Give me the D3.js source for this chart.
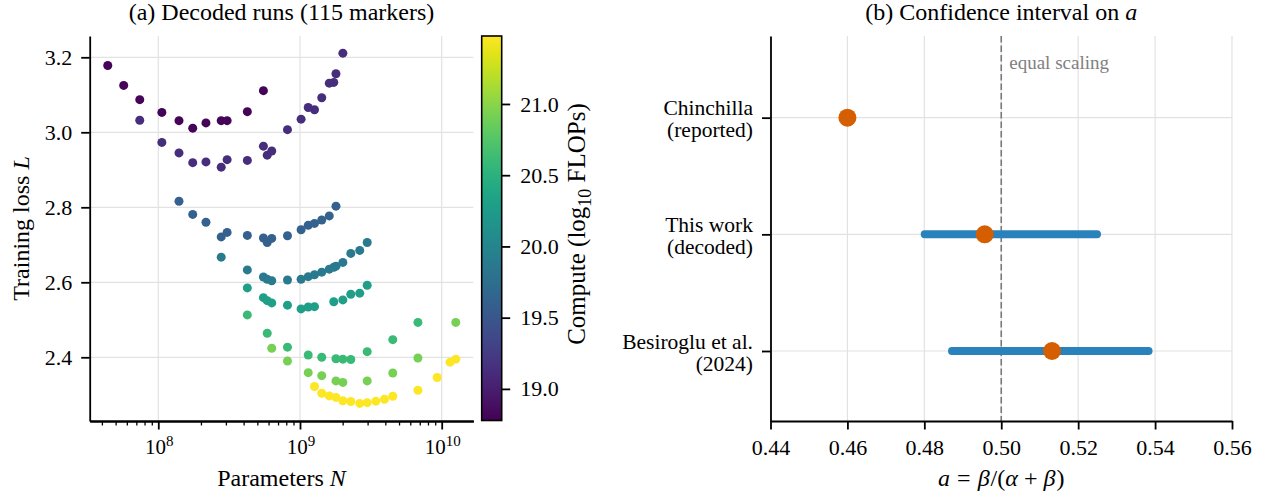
<!DOCTYPE html>
<html>
<head>
<meta charset="utf-8">
<script src="https://cdn.jsdelivr.net/npm/d3@7"></script>
<style>
body { margin: 0; background: #fff; }
svg { display: block; font-family: "Liberation Serif", "Times New Roman", serif; }
.axis path, .axis line { stroke: #000; }
</style>
</head>
<body>
<script>
'use strict';
// isoFLOP groups (log10 compute), params in millions, training loss
var computeLevels = [18.80, 19.13, 19.61, 19.88, 20.29, 20.61, 20.91, 21.48];

var paramsG1 = [44, 57, 74, 106, 140, 175, 217, 278, 306, 425, 552];
var lossG1 = [3.178, 3.125, 3.087, 3.053, 3.031, 3.011, 3.025, 3.031, 3.031, 3.055, 3.111];

var paramsG2 = [74, 106, 140, 175, 217, 278, 306, 425, 552, 587, 632, 816, 1018, 1143, 1266, 1424, 1609, 1731, 1794, 2007];
var lossG2 = [3.032, 2.973, 2.945, 2.919, 2.921, 2.907, 2.927, 2.925, 2.963, 2.939, 2.950, 3.007, 3.035, 3.066, 3.060, 3.092, 3.131, 3.133, 3.156, 3.211];

var paramsG3 = [140, 175, 217, 278, 306, 425, 552, 587, 632, 816, 1018, 1143, 1266, 1424, 1609, 1794];
var lossG3 = [2.816, 2.781, 2.760, 2.721, 2.733, 2.725, 2.718, 2.706, 2.717, 2.724, 2.740, 2.752, 2.757, 2.766, 2.777, 2.803];

var paramsG4 = [278, 425, 552, 587, 632, 816, 1018, 1143, 1266, 1424, 1609, 1731, 1794, 2007, 2283, 2639, 2980];
var lossG4 = [2.667, 2.633, 2.614, 2.608, 2.604, 2.606, 2.608, 2.615, 2.620, 2.627, 2.635, 2.640, 2.643, 2.653, 2.677, 2.685, 2.706];

var paramsG5 = [425, 552, 587, 632, 816, 1018, 1143, 1266, 1731, 2007, 2283, 2639, 2980];
var lossG5 = [2.585, 2.559, 2.551, 2.545, 2.539, 2.529, 2.534, 2.535, 2.548, 2.553, 2.568, 2.571, 2.592];

var paramsG6 = [425, 587, 816, 1143, 1424, 1794, 2007, 2283, 2980, 4516, 6796];
var lossG6 = [2.513, 2.464, 2.427, 2.406, 2.400, 2.396, 2.395, 2.394, 2.415, 2.447, 2.493];

var paramsG7 = [632, 816, 1143, 1424, 1794, 2007, 2980, 4516, 6796, 12569];
var lossG7 = [2.424, 2.390, 2.359, 2.351, 2.337, 2.333, 2.337, 2.358, 2.398, 2.493];

var paramsG8 = [1266, 1424, 1609, 1794, 2007, 2283, 2639, 2980, 3430, 3945, 4516, 6796, 9293, 11452, 12569];
var lossG8 = [2.322, 2.304, 2.297, 2.293, 2.284, 2.282, 2.277, 2.279, 2.283, 2.288, 2.296, 2.312, 2.346, 2.387, 2.395];

var lossTicks = [2.4, 2.6, 2.8, 3.0, 3.2];
var paramTicks = [1e8, 1e9, 1e10];
var computeTicks = [19.0, 19.5, 20.0, 20.5, 21.0];

// panel (b): a = beta/(alpha+beta)
var ciLabels = [["Chinchilla", "(reported)"], ["This work", "(decoded)"], ["Besiroglu et al.", "(2024)"]];
var ciPoint = [0.460, 0.4957, 0.5132];
var ciLow = [null, 0.4801, 0.4872];
var ciHigh = [null, 0.5249, 0.5383];
var aTicks = [0.44, 0.46, 0.48, 0.50, 0.52, 0.54, 0.56];
var equalScaling = 0.50;

var groups = [
    {c: computeLevels[0], n: paramsG1, l: lossG1},
    {c: computeLevels[1], n: paramsG2, l: lossG2},
    {c: computeLevels[2], n: paramsG3, l: lossG3},
    {c: computeLevels[3], n: paramsG4, l: lossG4},
    {c: computeLevels[4], n: paramsG5, l: lossG5},
    {c: computeLevels[5], n: paramsG6, l: lossG6},
    {c: computeLevels[6], n: paramsG7, l: lossG7},
    {c: computeLevels[7], n: paramsG8, l: lossG8}
];
var runs = [];
groups.forEach(function(g) {
    g.n.forEach(function(n, i) { runs.push({N: n * 1e6, L: g.l[i], C: g.c}); });
});

var svg = d3.select("body").append("svg")
    .attr("width", 1269)
    .attr("height", 494);

var tickFont = "22px", labelFont = "24px";
var gridColor = "#e2e2e2";

// ---------- panel (a) ----------
var left = {x0: 89.7, x1: 473.3, y0: 36, y1: 421};

var xScale = d3.scaleLog()
    .domain([Math.pow(10, 7.516), Math.pow(10, 10.223)])
    .range([left.x0, left.x1]);
var yScale = d3.scaleLinear()
    .domain([2.2301, 3.2568])
    .range([left.y1, left.y0]);
var cDomain = [Math.log10(6e18), Math.log10(3e21)];
var color = d3.scaleSequential(d3.interpolateViridis).domain(cDomain);

var gA = svg.append("g");

// grid
gA.selectAll(".gx").data(paramTicks).enter().append("line")
    .attr("x1", function(d) { return xScale(d); })
    .attr("x2", function(d) { return xScale(d); })
    .attr("y1", left.y0).attr("y2", left.y1)
    .attr("stroke", gridColor).attr("stroke-width", 1.2);
gA.selectAll(".gy").data(lossTicks).enter().append("line")
    .attr("x1", left.x0).attr("x2", left.x1)
    .attr("y1", function(d) { return yScale(d); })
    .attr("y2", function(d) { return yScale(d); })
    .attr("stroke", gridColor).attr("stroke-width", 1.2);

// markers
gA.selectAll(".run").data(runs).enter().append("circle")
    .attr("cx", function(d) { return xScale(d.N); })
    .attr("cy", function(d) { return yScale(d.L); })
    .attr("r", 4.5)
    .attr("fill", function(d) { return color(d.C); });

// y axis
var yAxis = gA.append("g").attr("class", "axis")
    .attr("transform", "translate(" + left.x0 + ",0)")
    .call(d3.axisLeft(yScale).tickValues(lossTicks).tickFormat(d3.format(".1f"))
        .tickSize(8.5).tickSizeOuter(0).tickPadding(9));
yAxis.attr("font-family", null);
yAxis.selectAll("text").style("font-size", tickFont);

// x axis, minor ticks first
var minorTicks = [];
[1e7, 1e8, 1e9].forEach(function(base) {
    for (var k = 2; k <= 9; k++) {
        var v = base * k;
        if (v >= xScale.domain()[0] && v <= xScale.domain()[1]) minorTicks.push(v);
    }
});
gA.append("g").attr("class", "axis")
    .attr("transform", "translate(0," + left.y1 + ")")
    .call(d3.axisBottom(xScale).tickValues(minorTicks).tickFormat("").tickSize(4.5).tickSizeOuter(0))
    .selectAll("line").attr("stroke-width", 1.3);
gA.append("g").attr("class", "axis")
    .attr("transform", "translate(0," + left.y1 + ")")
    .call(d3.axisBottom(xScale).tickValues(paramTicks).tickFormat("").tickSize(8.5).tickSizeOuter(0));
var xl = gA.selectAll(".xlab").data(paramTicks).enter().append("text")
    .attr("x", function(d) { return xScale(d) + 1; })
    .attr("y", 453.5)
    .attr("text-anchor", "middle")
    .style("font-size", "21px");
xl.append("tspan").text("10");
xl.append("tspan").attr("dy", -8).style("font-size", "15px")
    .text(function(d) { return Math.round(Math.log10(d)); });

// title and labels
gA.append("text").attr("x", (left.x0 + left.x1) / 2).attr("y", 20)
    .attr("text-anchor", "middle").style("font-size", labelFont)
    .text("(a) Decoded runs (115 markers)");
var xlab = gA.append("text").attr("x", (left.x0 + left.x1) / 2).attr("y", 486)
    .attr("text-anchor", "middle").style("font-size", labelFont);
xlab.append("tspan").text("Parameters ");
xlab.append("tspan").style("font-style", "italic").text("N");
var ylab = gA.append("text")
    .attr("transform", "translate(28.5," + (left.y0 + left.y1) / 2 + ") rotate(-90)")
    .attr("text-anchor", "middle").style("font-size", labelFont);
ylab.append("tspan").text("Training loss ");
ylab.append("tspan").style("font-style", "italic").text("L");

// colorbar
var cb = {x0: 481.7, x1: 501.7, y0: 36, y1: 420.5};
var cScale = d3.scaleLinear().domain(cDomain).range([cb.y1, cb.y0]);
var grad = svg.append("defs").append("linearGradient")
    .attr("id", "viridisGrad")
    .attr("x1", 0).attr("y1", 1).attr("x2", 0).attr("y2", 0);
d3.range(0, 1.0001, 0.05).forEach(function(t) {
    grad.append("stop").attr("offset", t).attr("stop-color", d3.interpolateViridis(t));
});
svg.append("rect")
    .attr("x", cb.x0).attr("y", cb.y0)
    .attr("width", cb.x1 - cb.x0).attr("height", cb.y1 - cb.y0)
    .attr("fill", "url(#viridisGrad)")
    .attr("stroke", "#000").attr("stroke-width", 1.6);
var cAxis = svg.append("g").attr("class", "axis")
    .attr("transform", "translate(" + cb.x1 + ",0)")
    .call(d3.axisRight(cScale).tickValues(computeTicks).tickFormat(d3.format(".1f"))
        .tickSize(8.5).tickSizeOuter(0).tickPadding(10));
cAxis.select(".domain").remove();
cAxis.attr("font-family", null);
cAxis.selectAll("text").style("font-size", tickFont);
var clab = svg.append("text")
    .attr("transform", "translate(585,224) rotate(-90)")
    .attr("text-anchor", "middle").style("font-size", "25px");
clab.append("tspan").text("Compute (log");
clab.append("tspan").attr("dy", 6).style("font-size", "18px").text("10");
clab.append("tspan").attr("dy", -6).text(" FLOPs)");

// ---------- panel (b) ----------
var right = {x0: 770.5, x1: 1232, y0: 36, y1: 421};
var aScale = d3.scaleLinear().domain([0.44, 0.56]).range([right.x0, right.x1]);
var rowScale = d3.scaleLinear().domain([-0.7, 2.6]).range([right.y0, right.y1]);
var rows = d3.range(ciLabels.length);

var gB = svg.append("g");
gB.selectAll(".gx").data(aTicks).enter().append("line")
    .attr("x1", function(d) { return aScale(d); })
    .attr("x2", function(d) { return aScale(d); })
    .attr("y1", right.y0).attr("y2", right.y1)
    .attr("stroke", gridColor).attr("stroke-width", 1.2);
gB.selectAll(".gy").data(rows).enter().append("line")
    .attr("x1", right.x0).attr("x2", right.x1)
    .attr("y1", function(d) { return rowScale(d); })
    .attr("y2", function(d) { return rowScale(d); })
    .attr("stroke", gridColor).attr("stroke-width", 1.2);

// equal scaling reference
gB.append("line")
    .attr("x1", aScale(equalScaling)).attr("x2", aScale(equalScaling))
    .attr("y1", right.y0).attr("y2", right.y1)
    .attr("stroke", "#7a7a7a").attr("stroke-width", 1.6)
    .attr("stroke-dasharray", "6.5,3");
gB.append("text")
    .attr("x", aScale(equalScaling) + 8).attr("y", 69)
    .attr("fill", "#808080").style("font-size", "19px")
    .text("equal scaling");

// intervals
gB.selectAll(".ci").data(rows.filter(function(i) { return ciLow[i] !== null; })).enter().append("line")
    .attr("x1", function(i) { return aScale(ciLow[i]); })
    .attr("x2", function(i) { return aScale(ciHigh[i]); })
    .attr("y1", function(i) { return rowScale(i); })
    .attr("y2", function(i) { return rowScale(i); })
    .attr("stroke", "#2a82bd").attr("stroke-width", 8)
    .attr("stroke-linecap", "round");
gB.selectAll(".pt").data(rows).enter().append("circle")
    .attr("cx", function(i) { return aScale(ciPoint[i]); })
    .attr("cy", function(i) { return rowScale(i); })
    .attr("r", 9)
    .attr("fill", "#d55e00");

// axes
var aAxis = gB.append("g").attr("class", "axis")
    .attr("transform", "translate(0," + right.y1 + ")")
    .call(d3.axisBottom(aScale).tickValues(aTicks).tickFormat(d3.format(".2f"))
        .tickSize(8.5).tickSizeOuter(0).tickPadding(10));
aAxis.attr("font-family", null);
aAxis.selectAll("text").style("font-size", tickFont);
gB.append("g").attr("class", "axis")
    .attr("transform", "translate(" + right.x0 + ",0)")
    .call(d3.axisLeft(rowScale).tickValues(rows).tickFormat("").tickSize(8.5).tickSizeOuter(0));
var rl = gB.selectAll(".rlab").data(rows).enter().append("text")
    .attr("text-anchor", "end")
    .style("font-size", "21.5px");
rl.append("tspan").attr("x", 753).attr("y", function(i) { return rowScale(i) - 2.5; })
    .text(function(i) { return ciLabels[i][0]; });
rl.append("tspan").attr("x", 753).attr("y", function(i) { return rowScale(i) + 19.7; })
    .text(function(i) { return ciLabels[i][1]; });

gB.append("text").attr("x", (right.x0 + right.x1) / 2).attr("y", 20)
    .attr("text-anchor", "middle").style("font-size", labelFont)
    .call(function(t) {
        t.append("tspan").text("(b) Confidence interval on ");
        t.append("tspan").style("font-style", "italic").text("a");
    });
// math-style spacing around the operators
var alab = gB.append("text").attr("x", (right.x0 + right.x1) / 2).attr("y", 486)
    .attr("text-anchor", "middle").style("font-size", labelFont);
alab.append("tspan").style("font-style", "italic").text("a");
alab.append("tspan").attr("dx", 7).text("=");
alab.append("tspan").attr("dx", 7).style("font-style", "italic").text("β");
alab.append("tspan").attr("dx", 1).text("/(");
alab.append("tspan").style("font-style", "italic").text("α");
alab.append("tspan").attr("dx", 6).text("+");
alab.append("tspan").attr("dx", 6).style("font-style", "italic").text("β");
alab.append("tspan").attr("dx", 1).text(")");

svg.selectAll(".axis path, .axis line").attr("stroke-width", function() {
    return d3.select(this).attr("stroke-width") || 1.8;
});
</script>
</body>
</html>
